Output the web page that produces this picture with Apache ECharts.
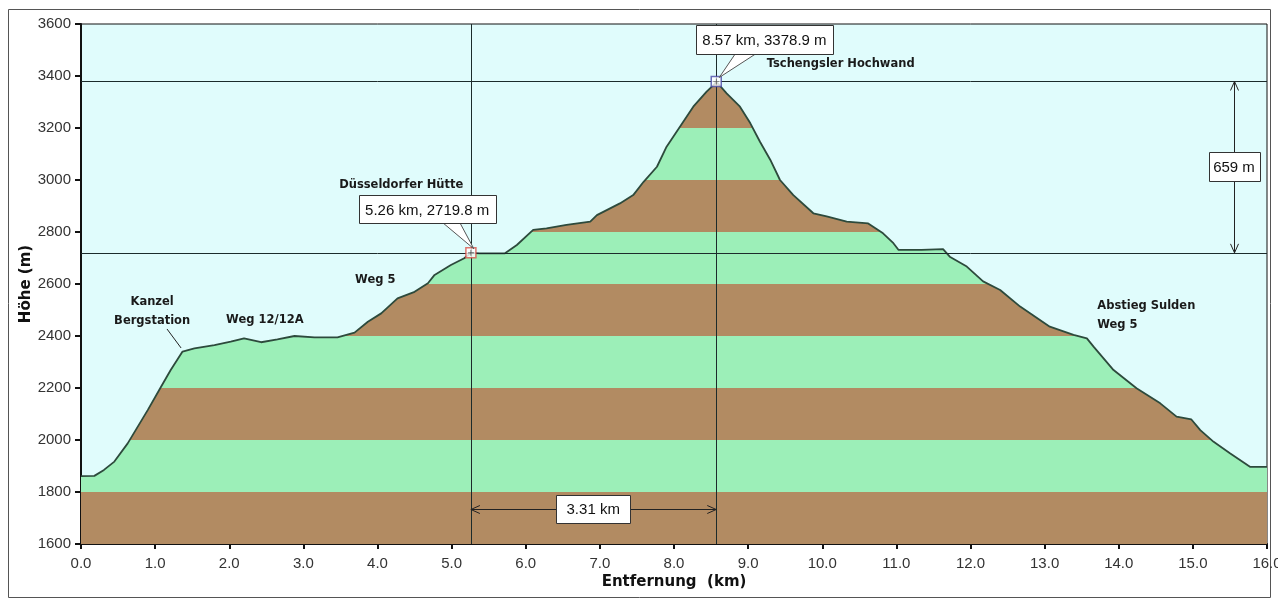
<!DOCTYPE html>
<html><head><meta charset="utf-8">
<script src="https://cdn.jsdelivr.net/npm/echarts@6/dist/echarts.min.js"></script>
<style>html,body{margin:0;padding:0;background:#fff;}#c{width:1278px;height:599px;}</style>
</head><body><div id="c"></div>
<script>
// ---- data ----
const distanceKm = [0, 0.18, 0.31, 0.45, 0.63, 0.9, 1.08, 1.21, 1.37, 1.53, 1.8, 2.02, 2.2, 2.43, 2.65, 2.88, 3.15, 3.46, 3.69, 3.87, 4.05, 4.27, 4.5, 4.68, 4.77, 4.99, 5.17, 5.26, 5.38, 5.72, 5.88, 6.10, 6.28, 6.55, 6.87, 6.96, 7.27, 7.45, 7.59, 7.77, 7.90, 8.08, 8.26, 8.44, 8.55, 8.57, 8.71, 8.89, 9.03, 9.16, 9.30, 9.43, 9.61, 9.88, 10.06, 10.33, 10.62, 10.82, 10.96, 11.03, 11.34, 11.36, 11.63, 11.72, 11.95, 12.17, 12.4, 12.67, 13.07, 13.39, 13.57, 13.66, 13.93, 14.24, 14.56, 14.78, 14.98, 15.10, 15.28, 15.50, 15.77, 16.0];
const elevationM = [1861, 1862, 1885, 1917, 1987, 2115, 2205, 2269, 2340, 2352, 2365, 2378, 2391, 2376, 2387, 2400, 2395, 2395, 2413, 2455, 2487, 2545, 2570, 2603, 2635, 2673, 2699, 2719.8, 2718, 2718, 2750, 2808, 2814, 2827, 2840, 2865, 2910, 2942, 2993, 3051, 3128, 3205, 3282, 3340, 3370, 3378.9, 3333, 3282, 3218, 3147, 3077, 3000, 2942, 2872, 2860, 2840, 2833, 2795, 2757, 2731, 2731, 2737, 2734, 2705, 2667, 2610, 2577, 2513, 2436, 2404, 2391, 2359, 2269, 2199, 2141, 2090, 2079, 2038, 1993, 1949, 1897, 1897];
const bandEdges = [1600, 1800, 2000, 2200, 2400, 2600, 2800, 3000, 3200, 3400, 3600];
const waypointKm = [5.26, 8.57];
const waypointElev = [2719.8, 3378.9];
const waypointColor = ['#d9534a', '#4a4aa8'];
const yTickMin = 1600, yTickMax = 3600, yTickStep = 200;
const xTickMin = 0, xTickMax = 16, xTickStep = 1;

// ---- styles ----
const BROWN = '#b28b62', GREEN = '#9cefb8', SKY = '#e0fcfc', LINE = '#2d4a3c';
const profile = distanceKm.map((d, i) => [d, elevationM[i]]);
const pieces = [];
for (let i = 0; i < bandEdges.length - 1; i++) {
  pieces.push({gte: bandEdges[i], lt: bandEdges[i + 1], color: i % 2 === 0 ? BROWN : GREEN});
}
pieces[pieces.length - 1].lte = bandEdges[bandEdges.length - 1];

const chart = echarts.init(document.getElementById('c'));
const axisFont = {fontFamily: 'Liberation Sans', fontSize: 15, color: '#333'};
chart.setOption({
  animation: false,
  backgroundColor: '#fff',
  grid: {left: 81, right: 11, top: 24, bottom: 55, containLabel: false, outerBoundsMode: 'none', show: true, backgroundColor: SKY, borderColor: '#111', borderWidth: 1},
  visualMap: {show: false, type: 'piecewise', dimension: 1, seriesIndex: 0, pieces: pieces},
  xAxis: {
    type: 'value', min: xTickMin, max: xTickMax, interval: xTickStep,
    name: 'Entfernung  (km)', nameLocation: 'middle', nameGap: 31, nameMoveOverlap: false,
    nameTextStyle: {fontFamily: 'DejaVu Sans', fontWeight: 'bold', fontSize: 15, color: '#111'},
    axisLine: {lineStyle: {color: '#111', width: 2}},
    axisTick: {show: true, length: 5, lineStyle: {color: '#111', width: 2}},
    axisLabel: Object.assign({margin: 12, hideOverlap: false, showMaxLabel: true, formatter: v => v.toFixed(1)}, axisFont),
    splitLine: {show: false}
  },
  yAxis: {
    type: 'value', min: yTickMin, max: yTickMax, interval: yTickStep,
    name: 'Höhe (m)', nameLocation: 'middle', nameGap: 47, nameRotate: 90, nameMoveOverlap: false,
    nameTextStyle: {fontFamily: 'DejaVu Sans', fontWeight: 'bold', fontSize: 15, color: '#111'},
    axisLine: {show: true, lineStyle: {color: '#111', width: 2}},
    axisTick: {show: true, length: 6, lineStyle: {color: '#111', width: 2}},
    axisLabel: Object.assign({margin: 10, formatter: v => String(v)}, axisFont),
    splitLine: {show: false}
  },
  series: [
    {type: 'line', data: profile, symbol: 'none', lineStyle: {width: 0}, areaStyle: {opacity: 1, origin: 'start'}, z: 1, silent: true},
    {type: 'line', data: profile, symbol: 'none', lineStyle: {color: LINE, width: 1.8}, z: 3, silent: true,
     markLine: {silent: true, symbol: 'none', label: {show: false}, lineStyle: {color: '#1c2b2b', width: 1, type: 'solid'},
       data: [{yAxis: waypointElev[0]}, {yAxis: waypointElev[1]}, {xAxis: waypointKm[0]}, {xAxis: waypointKm[1]}]}},
    {type: 'scatter', data: waypointKm.map((k, i) => ({value: [k, waypointElev[i]], itemStyle: {color: '#fff', borderColor: waypointColor[i], borderWidth: 1.5}})),
     symbol: 'rect', symbolSize: 10, z: 6, silent: true},
    {type: 'scatter', data: waypointKm.map((k, i) => [k, waypointElev[i]]), symbol: 'path://M4,0L5,0L5,4L9,4L9,5L5,5L5,9L4,9L4,5L0,5L0,4L4,4Z',
     symbolSize: 6, itemStyle: {color: '#111'}, z: 7, silent: true}
  ]
});

// ---- annotations (placed in data coordinates) ----
const px = (x, y) => chart.convertToPixel({gridIndex: 0}, [x, y]);
const g = [];
const boldText = (txt, x, y, align) => {
  const p = px(x, y);
  g.push({type: 'text', x: p[0], y: p[1], z: 20, style: {text: txt, fill: '#1a1a1a', font: 'bold 11.5px "DejaVu Sans"', align: align || 'center', verticalAlign: 'middle'}});
};
const box = (txt, x, y, w, h) => {
  const p = px(x, y);
  g.push({type: 'rect', z: 30, shape: {x: Math.round(p[0] - w / 2) + 0.5, y: Math.round(p[1] - h / 2) + 0.5, width: w, height: h}, style: {fill: '#fff', stroke: '#333', lineWidth: 1}});
  g.push({type: 'text', z: 31, x: p[0], y: p[1] + 1, style: {text: txt, fill: '#111', font: '15px "Liberation Sans"', align: 'center', verticalAlign: 'middle'}});
  return p;
};
const callout = (txt, bx, by, w, h, wk, we, off1, off2) => {
  const p = px(bx, by);
  const m = px(wk, we);
  const bottom = p[1] + h / 2;
  g.push({type: 'polygon', z: 29, shape: {points: [[p[0] + off1, bottom - 2], [m[0] + 3, m[1] - 4], [p[0] + off2, bottom - 2]]}, style: {fill: '#fff', stroke: '#555', lineWidth: 1}});
  box(txt, bx, by, w, h);
};
const chevron = (tip, dx, dy) => {
  const nx = -dy, ny = dx;
  g.push({type: 'polyline', z: 25, shape: {points: [[tip[0] + dx * 9 + nx * 4, tip[1] + dy * 9 + ny * 4], tip, [tip[0] + dx * 9 - nx * 4, tip[1] + dy * 9 - ny * 4]]}, style: {stroke: '#222', lineWidth: 1, fill: null}});
};
// dimension lines
const dimElevKm = 15.555;
const dimKmElev = 1735;
(function () {
  const a = px(dimElevKm, waypointElev[1]), b = px(dimElevKm, waypointElev[0]);
  g.push({type: 'line', z: 24, shape: {x1: Math.round(a[0]) + 0.5, y1: a[1], x2: Math.round(b[0]) + 0.5, y2: b[1]}, style: {stroke: '#222', lineWidth: 1}});
  chevron([Math.round(a[0]) + 0.5, a[1]], 0, 1);
  chevron([Math.round(b[0]) + 0.5, b[1]], 0, -1);
  const c = px(waypointKm[0], dimKmElev), d = px(waypointKm[1], dimKmElev);
  g.push({type: 'line', z: 24, shape: {x1: c[0], y1: Math.round(c[1]) + 0.5, x2: d[0], y2: Math.round(d[1]) + 0.5}, style: {stroke: '#222', lineWidth: 1}});
  chevron([c[0], Math.round(c[1]) + 0.5], 1, 0);
  chevron([d[0], Math.round(d[1]) + 0.5], -1, 0);
})();
box((waypointElev[1] - waypointElev[0]).toFixed(0) + ' m', dimElevKm, 3052, 51, 29);
box((waypointKm[1] - waypointKm[0]).toFixed(2) + ' km', 6.91, dimKmElev, 74, 28);
// waypoint callouts
callout(waypointKm[0].toFixed(2) + ' km, ' + waypointElev[0].toFixed(1) + ' m', 4.67, 2887, 137, 28, waypointKm[0], waypointElev[0], 14, 32);
callout(waypointKm[1].toFixed(2) + ' km, ' + waypointElev[1].toFixed(1) + ' m', 9.22, 3540, 137, 29, waypointKm[1], waypointElev[1], -28, -6);
// place names
boldText('Düsseldorfer Hütte', 4.32, 2981);
boldText('Tschengsler Hochwand', 9.25, 3446, 'left');
boldText('Kanzel', 0.96, 2531);
boldText('Bergstation', 0.96, 2458);
boldText('Weg 12/12A', 2.48, 2462);
boldText('Weg 5', 3.97, 2615);
boldText('Abstieg Sulden', 13.71, 2515, 'left');
boldText('Weg 5', 13.71, 2442, 'left');
(function () {
  const a = px(1.16, 2427), b = px(1.35, 2354);
  g.push({type: 'line', z: 20, shape: {x1: a[0], y1: a[1], x2: b[0], y2: b[1]}, style: {stroke: '#222', lineWidth: 1}});
})();
// outer frame
g.push({type: 'rect', z: 0, shape: {x: 8.5, y: 9.5, width: 1262, height: 588}, style: {fill: null, stroke: '#555', lineWidth: 1}});
chart.setOption({graphic: g});
</script>
</body></html>
